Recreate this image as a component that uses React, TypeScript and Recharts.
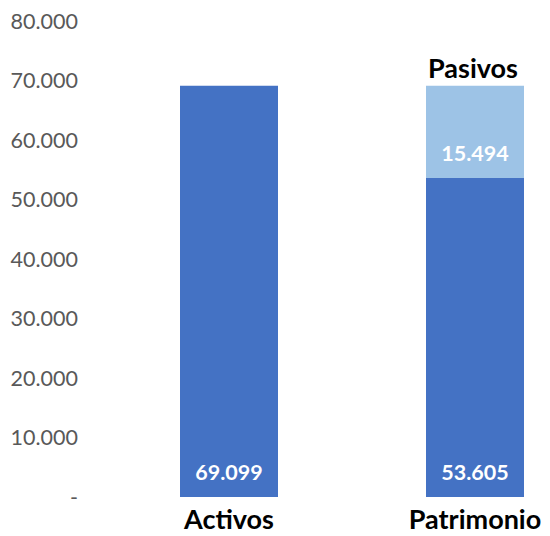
import React from 'react';
import { BarChart, Bar, XAxis, YAxis, LabelList } from 'recharts';

const categories = ['Activos', 'Patrimonio'];
const baseValues = [69099, 53605];
const pasivosValues: (number | null)[] = [null, 15494];
const pasivosName = 'Pasivos';
const yTicks = [0, 10000, 20000, 30000, 40000, 50000, 60000, 70000, 80000];

const data = categories.map((name, i) => ({
  name,
  base: baseValues[i],
  pasivos: pasivosValues[i],
}));

const FONT = 'Lato, "Open Sans", sans-serif';

const fmt = (v: number) =>
  v === 0 ? '-' : String(v).replace(/\B(?=(\d{3})+(?!\d))/g, '.');

const XTick = (props: any) => {
  const { x, payload } = props;
  return (
    <text x={x} y={529} textAnchor="middle" fill="#000" fontSize={27} fontWeight={700} fontFamily={FONT}>
      {payload.value}
    </text>
  );
};

const YTick = (props: any) => {
  const { y, payload } = props;
  return (
    <text x={78} y={y} dy={7.5} textAnchor="end" fill="#595959" fontSize={21.5} fontFamily={FONT}>
      {fmt(payload.value)}
    </text>
  );
};

const insideBase = (props: any) => {
  const { x, y, width, height, value } = props;
  if (value == null) return null;
  return (
    <text x={x + width / 2} y={y + height - 25} dy={7.5} textAnchor="middle" fill="#fff" fontSize={21.5} fontWeight={700} fontFamily={FONT}>
      {fmt(value)}
    </text>
  );
};

const seriesName = (props: any) => {
  const { x, y, width, value } = props;
  if (value == null) return null;
  return (
    <text x={x + width / 2 - 2} y={y - 18} dy={10} textAnchor="middle" fill="#000" fontSize={27} fontWeight={700} fontFamily={FONT}>
      {pasivosName}
    </text>
  );
};

export default function App() {
  return (
    <div style={{ position: 'absolute', left: 0, top: 0, width: 550, height: 536, overflow: 'hidden', background: '#fff' }}>
      <BarChart
        width={600}
        height={536}
        data={data}
        margin={{ top: 21, right: 2, bottom: 0, left: 0 }}
        barCategoryGap={74}
      >
        <XAxis dataKey="name" axisLine={false} tickLine={false} height={39} tick={<XTick />} interval={0} />
        <YAxis
          width={106}
          domain={[0, 80000]}
          ticks={yTicks}
          axisLine={false}
          tickLine={false}
          tick={<YTick />}
          interval={0}
        />
        <Bar dataKey="base" stackId="a" fill="#4472C4" isAnimationActive={false}>
          <LabelList dataKey="base" content={insideBase} />
        </Bar>
        <Bar dataKey="pasivos" stackId="a" fill="#9DC3E6" isAnimationActive={false}>
          <LabelList dataKey="pasivos" content={insideBase} />
          <LabelList dataKey="pasivos" content={seriesName} />
        </Bar>
      </BarChart>
    </div>
  );
}
